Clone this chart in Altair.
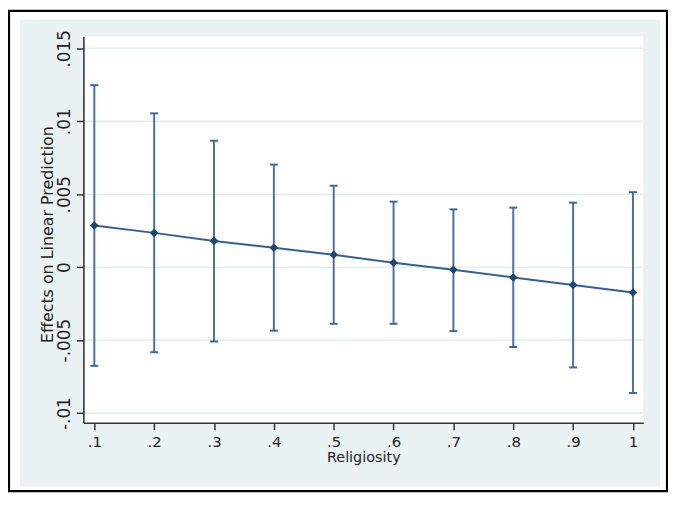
import altair as alt
import pandas as pd

# ---- data ----
religiosity = [0.1, 0.2, 0.3, 0.4, 0.5, 0.6, 0.7, 0.8, 0.9, 1.0]
effect = [0.00286, 0.00235, 0.00180, 0.00133, 0.00085, 0.00030, -0.00018, -0.00071, -0.00122, -0.00174]
upper = [0.01247, 0.01054, 0.00866, 0.00703, 0.00558, 0.00449, 0.00396, 0.00408, 0.00442, 0.00514]
lower = [-0.00676, -0.00583, -0.00510, -0.00435, -0.00388, -0.00388, -0.00438, -0.00547, -0.00687, -0.00862]

x_ticks = [0.1, 0.2, 0.3, 0.4, 0.5, 0.6, 0.7, 0.8, 0.9, 1.0]
x_labels = [".1", ".2", ".3", ".4", ".5", ".6", ".7", ".8", ".9", "1"]
y_ticks = [-0.01, -0.005, 0.0, 0.005, 0.01, 0.015]
y_labels = ["-.01", "-.005", "0", ".005", ".01", ".015"]

x_domain = [0.0818, 1.0171]
y_domain = [-0.010657, 0.015798]

W, H = 564, 389
FONT = "DejaVu Sans"
AX = "#333333"
TXT = "#222222"
BG = "#EAF2F3"
GRID = "#E4EDEF"


def label_expr(vals, labels):
    expr = "''"
    for v, l in reversed(list(zip(vals, labels))):
        expr = f"abs(datum.value - ({v})) < 1e-9 ? '{l}' : {expr}"
    return expr


df = pd.DataFrame({"religiosity": religiosity, "effect": effect,
                   "upper": upper, "lower": lower})
grid_df = pd.DataFrame({"g": y_ticks})
one = pd.DataFrame({"a": [0]})

x_axis = alt.Axis(values=x_ticks, labelExpr=label_expr(x_ticks, x_labels), grid=False,
                  domainColor=AX, domainWidth=1.6, tickColor=AX, tickWidth=1.5, tickSize=7,
                  labelFont=FONT, labelFontSize=15, labelColor=TXT, labelPadding=5,
                  labelFlush=False, labelOverlap=False, labelBaseline="top",
                  title="Religiosity", titleFont=FONT, titleFontSize=14.5,
                  titleFontWeight="normal", titleColor=TXT, titleX=W / 2, titleY=39,
                  titleAlign="center", titleBaseline="alphabetic", zindex=1)
y_axis = alt.Axis(values=y_ticks, labelExpr=label_expr(y_ticks, y_labels), grid=False,
                  domainColor=AX, domainWidth=1.6, tickColor=AX, tickWidth=1.5, tickSize=7,
                  labelFont=FONT, labelFontSize=17, labelColor=TXT, labelPadding=7,
                  labelAngle=270, labelAlign="center", labelBaseline="alphabetic",
                  labelFlush=False, labelOverlap=False,
                  title="Effects on Linear Prediction", titleFont=FONT, titleFontSize=16,
                  titleFontWeight="normal", titleColor=TXT, titleAngle=270,
                  titleX=-31.5, titleY=199, titleAlign="center",
                  titleBaseline="alphabetic", zindex=1)

xs = alt.Scale(domain=x_domain, nice=False, zero=False)
ys = alt.Scale(domain=y_domain, nice=False, zero=False)


def X(f):
    return alt.X(f, type="quantitative", scale=xs, axis=x_axis, title="Religiosity")


def Y(f):
    return alt.Y(f, type="quantitative", scale=ys, axis=y_axis,
                 title="Effects on Linear Prediction")


blue = alt.Chart(one).mark_rect(fill=BG).encode(
    x=alt.value(-64), x2=alt.value(581), y=alt.value(-17), y2=alt.value(453))
white = alt.Chart(one).mark_rect(fill="white").encode(
    x=alt.value(0), x2=alt.value(W), y=alt.value(0), y2=alt.value(H))
border = alt.Chart(one).mark_rect(fill=None, stroke="black", strokeWidth=2.2).encode(
    x=alt.value(-75), x2=alt.value(588), y=alt.value(-26), y2=alt.value(458))

grid = alt.Chart(grid_df).mark_rule(color=GRID, strokeWidth=1.6).encode(
    y=Y("g"), x=alt.value(0), x2=alt.value(W))

bars = alt.Chart(df).mark_rule(color="#4A71A0", strokeWidth=2).encode(
    x=X("religiosity"), y=Y("lower"), y2="upper")
cap_hi = alt.Chart(df).mark_tick(color="#3F6896", orient="horizontal", size=8,
                                 thickness=2, opacity=1).encode(
    x=X("religiosity"), y=Y("upper"))
cap_lo = alt.Chart(df).mark_tick(color="#3F6896", orient="horizontal", size=8,
                                 thickness=2, opacity=1).encode(
    x=X("religiosity"), y=Y("lower"))
line = alt.Chart(df).mark_line(color="#36618E", strokeWidth=2).encode(
    x=X("religiosity"), y=Y("effect"))
pts = alt.Chart(df).mark_point(shape="diamond", filled=True, size=75,
                               color="#1A476F", opacity=1).encode(
    x=X("religiosity"), y=Y("effect"))

chart = alt.layer(blue, white, border, grid, bars, cap_hi, cap_lo, line, pts).properties(
    width=W, height=H,
    autosize=alt.AutoSizeParams(type="none"),
    padding={"left": 76, "top": 27, "right": 25, "bottom": 70},
    background="white",
).configure_view(stroke=None)

chart.save("out.html", embed_options={"renderer": "svg", "actions": False})
